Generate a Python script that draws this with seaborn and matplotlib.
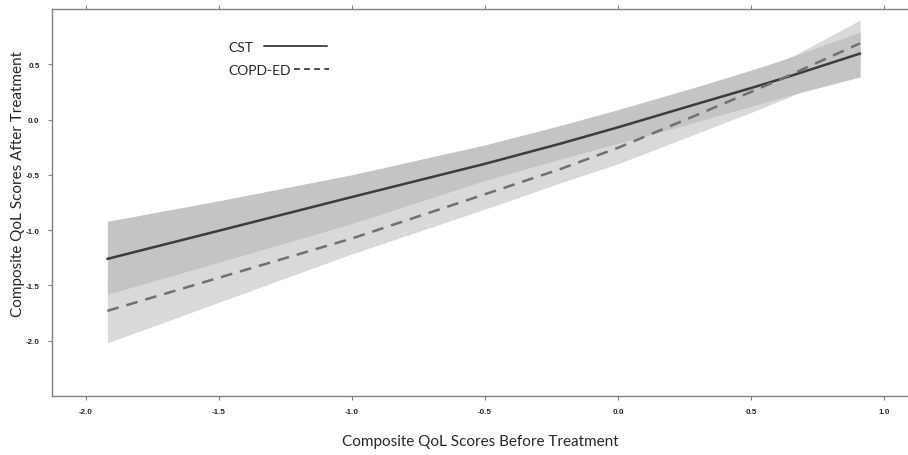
import pandas as pd
import matplotlib.pyplot as plt
import seaborn as sns
from matplotlib.lines import Line2D

# values
x_vals = [-1.92, -1.5, -1.0, -0.5, -0.22, 0.0, 0.28, 0.5, 0.63, 0.91]

cst_fit = [-1.26, -1.005, -0.70, -0.40, -0.22, -0.07, 0.13, 0.285, 0.38, 0.597]
cst_lo = [-1.58, -1.29, -0.94, -0.55, -0.36, -0.215, -0.03, 0.12, 0.21, 0.386]
cst_hi = [-0.92, -0.734, -0.499, -0.229, -0.055, 0.09, 0.286, 0.447, 0.548, 0.792]

copd_fit = [-1.73, -1.43, -1.075, -0.675, -0.45, -0.255, 0.025, 0.25, 0.385, 0.69]
copd_lo = [-2.02, -1.652, -1.214, -0.81, -0.575, -0.40, -0.14, 0.065, 0.19, 0.48]
copd_hi = [-1.44, -1.20, -0.91, -0.53, -0.30, -0.08, 0.18, 0.42, 0.54, 0.90]

x_ticks = [-2.0, -1.5, -1.0, -0.5, 0.0, 0.5, 1.0]
y_ticks = [-2.0, -1.5, -1.0, -0.5, 0.0, 0.5]

data = pd.DataFrame({
    'before': x_vals + x_vals,
    'after': cst_fit + copd_fit,
    'group': ['CST'] * len(x_vals) + ['COPD-ED'] * len(x_vals),
})

sns.set_theme(style="white")
plt.rcParams['font.family'] = ['Lato', 'DejaVu Sans']

fig = plt.figure(figsize=(9.08, 4.56), dpi=100)
ax = fig.add_axes([0.0573, 0.1294, 0.9427, 0.8487])

# confidence bands, light one under the darker one
ax.fill_between(x_vals, copd_lo, copd_hi, color='#d9d9d9', linewidth=0)
ax.fill_between(x_vals, cst_lo, cst_hi, color='#c4c4c4', linewidth=0)

sns.lineplot(
    data=data, x='before', y='after', hue='group', style='group',
    palette={'CST': '#3c3c3c', 'COPD-ED': '#707070'},
    dashes={'CST': '', 'COPD-ED': (4.7, 3.2)},
    linewidth=1.8, legend=False, ax=ax,
)

ax.set_xlim(-2.128, 1.09)
ax.set_ylim(-2.5, 1.0)
ax.set_xticks(x_ticks)
ax.set_yticks(y_ticks)
ax.set_xticklabels([f"{t:.1f}" for t in x_ticks], fontfamily='Liberation Sans',
                   fontweight='bold', fontsize=5.8)
ax.set_yticklabels([f"{t:.1f}" for t in y_ticks], fontfamily='Liberation Sans',
                   fontweight='bold', fontsize=5.8)
ax.tick_params(axis='both', direction='out', length=3, width=0.8, color='#808080',
               bottom=True, left=True, top=True, labeltop=False, pad=6)

for side in ['left', 'top', 'bottom']:
    ax.spines[side].set_color('#808080')
    ax.spines[side].set_linewidth(1.0)
ax.spines['right'].set_visible(False)

ax.set_xlabel('Composite QoL Scores Before Treatment', fontsize=11, labelpad=13)
ax.set_ylabel('Composite QoL Scores After Treatment', fontsize=11)
ax.yaxis.set_label_coords(-0.031, 0.55)

# legend: label first, line after it
fs = 10 * 100 / 72
leg1 = ax.legend(handles=[Line2D([], [], color='#3c3c3c', linewidth=1.3)], labels=['CST'],
                 loc='center left', bbox_to_anchor=(0.2056, 0.902), frameon=False,
                 markerfirst=False, handlelength=63 / fs, handletextpad=0.8,
                 borderpad=0, borderaxespad=0, fontsize=10)
ax.add_artist(leg1)
ax.legend(handles=[Line2D([], [], color='#3c3c3c', linewidth=1.3, dashes=(3.2, 2.4))],
          labels=['COPD-ED'], loc='center left', bbox_to_anchor=(0.2056, 0.842),
          frameon=False, markerfirst=False, handlelength=35 / fs, handletextpad=0.25,
          borderpad=0, borderaxespad=0, fontsize=10)

plt.savefig('out.png', dpi=100)
